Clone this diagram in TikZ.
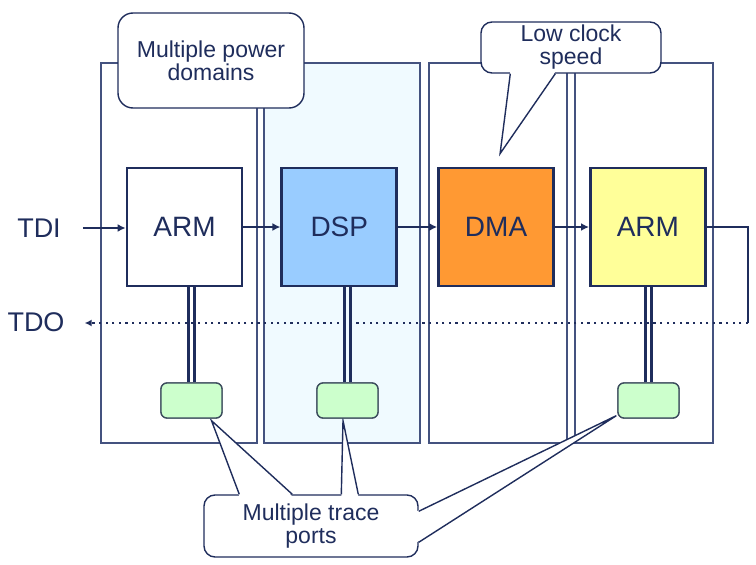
\documentclass[tikz,border=0pt]{standalone}
\usepackage{fontspec}
\setmainfont{Liberation Sans}
\usetikzlibrary{arrows.meta,positioning,calc}
\definecolor{jtnavy}{HTML}{1F2D5C}
\definecolor{jtframe}{HTML}{44527F}
\definecolor{jtpanel}{HTML}{F0FAFF}
\definecolor{jtdsp}{HTML}{99CCFF}
\definecolor{jtdma}{HTML}{FF9933}
\definecolor{jtarm}{HTML}{FFFF99}
\definecolor{jtport}{HTML}{CCFFCC}
\definecolor{jtportline}{HTML}{3D4D5E}
\tikzset{
  dombox/.style={draw=jtframe, line width=1.4pt, minimum height=380pt, inner sep=0pt},
  chipbox/.style={draw=jtnavy, line width=2.8pt, minimum width=115pt, minimum height=118pt, text=jtnavy, font=\fontsize{28}{30}\selectfont},
  portbox/.style={draw=jtportline, fill=jtport, rounded corners=6pt, line width=1.3pt, minimum width=61pt, minimum height=35pt},
  calloutbox/.style={draw=jtnavy, fill=white, line width=1.4pt, align=center, inner sep=0pt, text=jtnavy, font=\fontsize{23}{23}\selectfont},
  pinlabel/.style={text=jtnavy, font=\fontsize{27}{29}\selectfont, inner sep=0pt},
  jtline/.style={-{Latex[length=8pt,width=8pt]}, line width=2.8pt, draw=jtnavy},
  jtdots/.style={-{Latex[length=7pt,width=7pt]}, line width=2.4pt, draw=jtnavy, dash pattern=on 2.2pt off 4.4pt},
  jtbus/.style={draw=jtnavy, line width=2.4pt, double distance=3.6pt},
  jttail/.style={draw=jtnavy, line width=1.4pt, line join=miter}
}
\begin{document}
\begin{tikzpicture}[x=1pt, y=-1pt]
  \useasboundingbox (0,0) rectangle (756,565);
  \node[dombox, minimum width=156pt] (dom1) at (179,253) {};
  \node[dombox, minimum width=156pt, fill=jtpanel] (dom2) at (342,253) {};
  \node[dombox, minimum width=138pt] (dom3) at (498,253) {};
  \node[dombox, minimum width=138pt] (dom4) at (644,253) {};
  \node[calloutbox, rounded corners=15pt, minimum width=186pt, minimum height=95pt] (power) at (211,60.5) {Multiple power\\domains};
  \node[calloutbox, rounded corners=11pt, minimum width=180pt, minimum height=51pt] (clock) at (571,47.5) {Low clock\\speed};
  \node[chipbox, fill=white] (arm1) at (184.5,227) {ARM};
  \node[chipbox, fill=jtdsp, right=37pt of arm1] (dsp) {DSP};
  \node[chipbox, fill=jtdma, right=39pt of dsp] (dma) {DMA};
  \node[chipbox, fill=jtarm, right=34pt of dma] (arm2) {ARM};
  \coordinate (tipk) at ($(dma.north)+(4,-13)$);
  \fill[white] ($(clock.south west)+(30,-2)$) -- (tipk) -- ($(clock.south west)+(75,-2)$) -- cycle;
  \draw[jttail] ($(clock.south west)+(30,0)$) -- (tipk) -- ($(clock.south west)+(75,0)$);
  \node[pinlabel] (tdi) at (39,228) {TDI};
  \node[pinlabel] (tdo) at (36,322) {TDO};
  \draw[jtline, shorten <=22pt] (tdi.east) -- (tdi.east -| arm1.west);
  \draw[jtline] (arm1) -- (dsp);
  \draw[jtline] (dsp) -- (dma);
  \draw[jtline] (dma) -- (arm2);
  \node[portbox] (port1) at (191.5,400.5) {};
  \node[portbox] (port2) at (347.5,400.5) {};
  \node[portbox] (port3) at (648.5,400.5) {};
  \draw[jtbus, double=white] (port1.north) -- (port1.north |- arm1.south);
  \draw[jtbus, double=jtpanel] (port2.north) -- (port2.north |- dsp.south);
  \draw[jtbus, double=white] (port3.north) -- (port3.north |- arm2.south);
  \coordinate (loopb) at (748,323);
  \draw[line width=2.8pt, jtnavy] (arm2.east) -| (loopb);
  \draw[jtdots, shorten >=20pt] (loopb) -- (loopb -| tdo.east);
  \node[calloutbox, rounded corners=11pt, minimum width=214pt, minimum height=62pt] (trace) at (311,526) {Multiple trace\\ports};
  \coordinate (tipa) at ($(port1.south)+(20,2)$);
  \coordinate (tipb) at ($(port2.south)+(-4.5,2)$);
  \coordinate (tipc) at ($(port3.south west)+(-1,-3)$);
  \fill[white] ($(trace.north west)+(36,2)$) -- (tipa) -- ($(trace.north west)+(89,2)$) -- cycle;
  \fill[white] ($(trace.north west)+(138,2)$) -- (tipb) -- ($(trace.north west)+(155,2)$) -- cycle;
  \fill[white] ($(trace.north east)+(-2,17)$) -- (tipc) -- ($(trace.north east)+(-2,48)$) -- cycle;
  \draw[jttail] ($(trace.north west)+(36,0)$) -- (tipa) -- ($(trace.north west)+(89,0)$);
  \draw[jttail] ($(trace.north west)+(138,0)$) -- (tipb) -- ($(trace.north west)+(155,0)$);
  \draw[jttail] ($(trace.north east)+(0,17)$) -- (tipc) -- ($(trace.north east)+(0,48)$);
  \node[portbox] at (port1) {};
  \node[portbox] at (port2) {};
  \node[portbox] at (port3) {};
\end{tikzpicture}
\end{document}
